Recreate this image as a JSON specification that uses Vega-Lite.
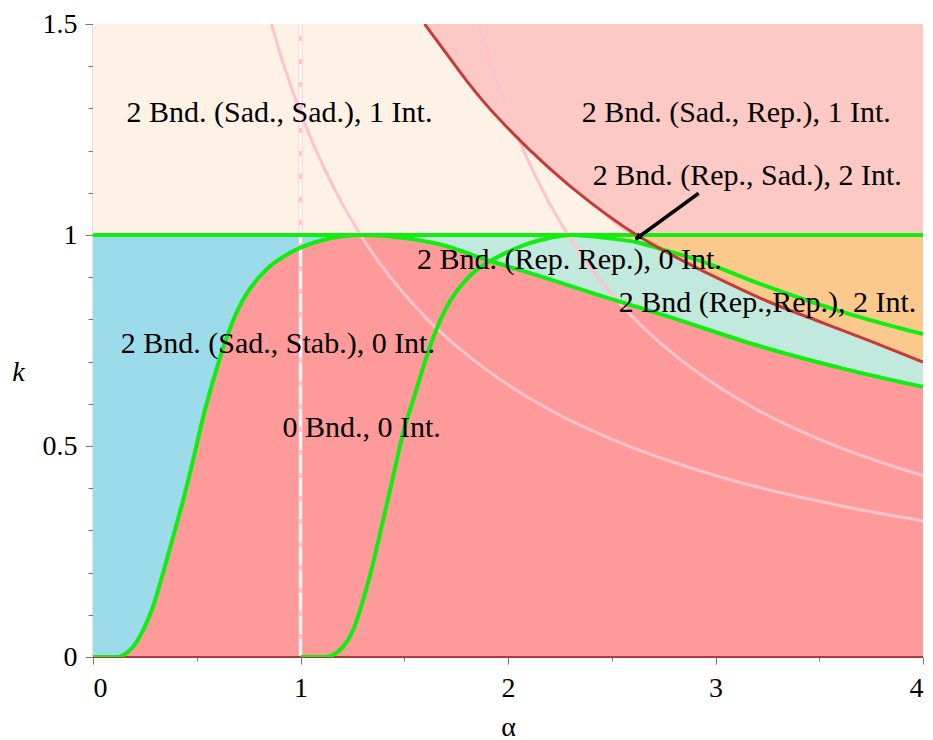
{
  "$schema": "https://vega.github.io/schema/vega-lite/v6.json",
  "width": 830,
  "height": 633,
  "autosize": "none",
  "padding": {"left": 93, "top": 24, "right": 10, "bottom": 83},
  "background": "white",
  "config": {"view": {"stroke": null}, "font": "'Liberation Serif', 'Times New Roman', Times, 'DejaVu Serif', serif"},
  "datasets": {
    "rects": [
      {"name": "peach", "a": 0, "a2": 4, "k": 1, "k2": 1.5},
      {"name": "blue", "a": 0, "a2": 1.3, "k": 0, "k2": 1},
      {"name": "teal", "a": 1.3, "a2": 4, "k": 0, "k2": 1}
    ],
    "redTop": [
      {"a": 1.598, "k": 1.5}, {"a": 1.7, "k": 1.432}, {"a": 1.8, "k": 1.366}, {"a": 1.9, "k": 1.306},
      {"a": 2.0, "k": 1.253}, {"a": 2.2, "k": 1.158}, {"a": 2.4, "k": 1.076}, {"a": 2.62, "k": 1.0}, {"a": 4.0, "k": 1.0}
    ],
    "red": [
      {"a": 1.598, "k": 1.5}, {"a": 1.7, "k": 1.432}, {"a": 1.8, "k": 1.366}, {"a": 1.9, "k": 1.306},
      {"a": 2.0, "k": 1.253}, {"a": 2.2, "k": 1.158}, {"a": 2.4, "k": 1.076}, {"a": 2.62, "k": 1.0},
      {"a": 2.8, "k": 0.95}, {"a": 3.0, "k": 0.9}, {"a": 3.25, "k": 0.843}, {"a": 3.5, "k": 0.795},
      {"a": 3.75, "k": 0.748}, {"a": 4.0, "k": 0.699}
    ],
    "redLow": [
      {"a": 2.62, "k": 1.0}, {"a": 2.8, "k": 0.95}, {"a": 3.0, "k": 0.9}, {"a": 3.25, "k": 0.843}, {"a": 3.5, "k": 0.795},
      {"a": 3.75, "k": 0.748}, {"a": 4.0, "k": 0.699}
    ],
    "yellow": [
      {"a": 2.3, "k": 1.0}, {"a": 2.4, "k": 0.997}, {"a": 2.5, "k": 0.992}, {"a": 2.63, "k": 0.984}
    ],
    "curveA": [
      {"a": 0, "k": 0}, {"a": 0.12, "k": 0}, {"a": 0.145, "k": 0.004}, {"a": 0.193, "k": 0.024},
      {"a": 0.241, "k": 0.063}, {"a": 0.289, "k": 0.119}, {"a": 0.337, "k": 0.198}, {"a": 0.386, "k": 0.285},
      {"a": 0.434, "k": 0.371}, {"a": 0.482, "k": 0.466}, {"a": 0.53, "k": 0.567}, {"a": 0.6, "k": 0.69},
      {"a": 0.65, "k": 0.765}, {"a": 0.7, "k": 0.825}, {"a": 0.75, "k": 0.868}, {"a": 0.8, "k": 0.9},
      {"a": 0.85, "k": 0.925}, {"a": 0.9, "k": 0.943}, {"a": 1.0, "k": 0.97}, {"a": 1.1, "k": 0.987}, {"a": 1.2, "k": 0.997},
      {"a": 1.3, "k": 1.0}, {"a": 1.4, "k": 0.998}, {"a": 1.5, "k": 0.993}, {"a": 1.67, "k": 0.978},
      {"a": 1.91, "k": 0.939}, {"a": 2.15, "k": 0.903}, {"a": 2.44, "k": 0.857}, {"a": 2.77, "k": 0.807},
      {"a": 3.21, "k": 0.737}, {"a": 3.61, "k": 0.684}, {"a": 4.0, "k": 0.64}
    ],
    "greens": [
      {"s": "A", "a": 0, "k": 0}, {"s": "A", "a": 0.12, "k": 0}, {"s": "A", "a": 0.145, "k": 0.004}, {"s": "A", "a": 0.193, "k": 0.024},
      {"s": "A", "a": 0.241, "k": 0.063}, {"s": "A", "a": 0.289, "k": 0.119}, {"s": "A", "a": 0.337, "k": 0.198}, {"s": "A", "a": 0.386, "k": 0.285},
      {"s": "A", "a": 0.434, "k": 0.371}, {"s": "A", "a": 0.482, "k": 0.466}, {"s": "A", "a": 0.53, "k": 0.567}, {"s": "A", "a": 0.6, "k": 0.69},
      {"s": "A", "a": 0.65, "k": 0.765}, {"s": "A", "a": 0.7, "k": 0.825}, {"s": "A", "a": 0.75, "k": 0.868}, {"s": "A", "a": 0.8, "k": 0.9},
      {"s": "A", "a": 0.85, "k": 0.925}, {"s": "A", "a": 0.9, "k": 0.943}, {"s": "A", "a": 1.0, "k": 0.97}, {"s": "A", "a": 1.1, "k": 0.987}, {"s": "A", "a": 1.2, "k": 0.997},
      {"s": "A", "a": 1.3, "k": 1.0}, {"s": "A", "a": 1.4, "k": 0.998}, {"s": "A", "a": 1.5, "k": 0.993}, {"s": "A", "a": 1.67, "k": 0.978},
      {"s": "A", "a": 1.91, "k": 0.939}, {"s": "A", "a": 2.15, "k": 0.903}, {"s": "A", "a": 2.44, "k": 0.857}, {"s": "A", "a": 2.77, "k": 0.807},
      {"s": "A", "a": 3.21, "k": 0.737}, {"s": "A", "a": 3.61, "k": 0.684}, {"s": "A", "a": 4.0, "k": 0.64},
      {"s": "B", "a": 1.0, "k": 0}, {"s": "B", "a": 1.12, "k": 0}, {"s": "B", "a": 1.141, "k": 0.002}, {"s": "B", "a": 1.205, "k": 0.024},
      {"s": "B", "a": 1.253, "k": 0.063}, {"s": "B", "a": 1.301, "k": 0.134}, {"s": "B", "a": 1.349, "k": 0.221}, {"s": "B", "a": 1.398, "k": 0.324},
      {"s": "B", "a": 1.446, "k": 0.427}, {"s": "B", "a": 1.494, "k": 0.53}, {"s": "B", "a": 1.55, "k": 0.62}, {"s": "B", "a": 1.6, "k": 0.7},
      {"s": "B", "a": 1.65, "k": 0.77}, {"s": "B", "a": 1.7, "k": 0.825}, {"s": "B", "a": 1.75, "k": 0.865}, {"s": "B", "a": 1.8, "k": 0.895},
      {"s": "B", "a": 1.85, "k": 0.918}, {"s": "B", "a": 1.91, "k": 0.937},
      {"s": "B", "a": 2.0, "k": 0.96}, {"s": "B", "a": 2.1, "k": 0.98}, {"s": "B", "a": 2.2, "k": 0.993}, {"s": "B", "a": 2.3, "k": 1.0},
      {"s": "B", "a": 2.4, "k": 0.997}, {"s": "B", "a": 2.49, "k": 0.992}, {"s": "B", "a": 2.62, "k": 0.983}, {"s": "B", "a": 2.73, "k": 0.968},
      {"s": "B", "a": 2.92, "k": 0.94}, {"s": "B", "a": 3.21, "k": 0.885}, {"s": "B", "a": 3.61, "k": 0.818}, {"s": "B", "a": 4.0, "k": 0.765},
      {"s": "one", "a": 0, "k": 1}, {"s": "one", "a": 4, "k": 1}
    ],
    "pinks": [
      {"s": "p1", "a": 0.86, "k": 1.5}, {"s": "p1", "a": 0.9, "k": 1.433}, {"s": "p1", "a": 1.0, "k": 1.29}, {"s": "p1", "a": 1.1, "k": 1.173},
      {"s": "p1", "a": 1.2, "k": 1.075}, {"s": "p1", "a": 1.3, "k": 0.992}, {"s": "p1", "a": 1.4, "k": 0.921}, {"s": "p1", "a": 1.5, "k": 0.86},
      {"s": "p1", "a": 1.6, "k": 0.806}, {"s": "p1", "a": 1.8, "k": 0.717}, {"s": "p1", "a": 2.0, "k": 0.645}, {"s": "p1", "a": 2.2, "k": 0.586},
      {"s": "p1", "a": 2.4, "k": 0.5375}, {"s": "p1", "a": 2.6, "k": 0.496}, {"s": "p1", "a": 2.8, "k": 0.461}, {"s": "p1", "a": 3.0, "k": 0.43},
      {"s": "p1", "a": 3.25, "k": 0.397}, {"s": "p1", "a": 3.5, "k": 0.369}, {"s": "p1", "a": 3.75, "k": 0.344}, {"s": "p1", "a": 4.0, "k": 0.3225},
      {"s": "p2", "a": 1.86, "k": 1.5}, {"s": "p2", "a": 1.9, "k": 1.433}, {"s": "p2", "a": 2.0, "k": 1.29}, {"s": "p2", "a": 2.1, "k": 1.173},
      {"s": "p2", "a": 2.2, "k": 1.075}, {"s": "p2", "a": 2.3, "k": 0.992}, {"s": "p2", "a": 2.4, "k": 0.921}, {"s": "p2", "a": 2.5, "k": 0.86},
      {"s": "p2", "a": 2.6, "k": 0.806}, {"s": "p2", "a": 2.8, "k": 0.717}, {"s": "p2", "a": 3.0, "k": 0.645}, {"s": "p2", "a": 3.2, "k": 0.586},
      {"s": "p2", "a": 3.4, "k": 0.5375}, {"s": "p2", "a": 3.6, "k": 0.496}, {"s": "p2", "a": 3.8, "k": 0.461}, {"s": "p2", "a": 4.0, "k": 0.43}
    ],
    "vline": [{"a": 1, "k": 0, "k2": 1.5}],
    "zeroLine": [{"a": 0, "a2": 4, "k": 0}],
    "arrow": [{"a": 2.919, "k": 1.099}, {"a": 2.615, "k": 0.99}],
    "arrowHead": [{"a": 2.625, "k": 0.994}],
    "labels": [
      {"a": 0.162, "k": 1.267, "t": "2 Bnd. (Sad., Sad.), 1 Int."},
      {"a": 2.355, "k": 1.268, "t": "2 Bnd. (Sad., Rep.), 1 Int."},
      {"a": 2.408, "k": 1.118, "t": "2 Bnd. (Rep., Sad.), 2 Int."},
      {"a": 1.561, "k": 0.919, "t": "2 Bnd. (Rep. Rep.), 0 Int."},
      {"a": 2.534, "k": 0.817, "t": "2 Bnd (Rep.,Rep.), 2 Int."},
      {"a": 0.134, "k": 0.72, "t": "2 Bnd. (Sad., Stab.), 0 Int."},
      {"a": 0.913, "k": 0.521, "t": "0 Bnd., 0 Int."}
    ]
  },
  "encoding": {
    "x": {
      "field": "a", "type": "quantitative",
      "scale": {"domain": [0, 4], "nice": false, "zero": false},
      "axis": {
        "values": [0, 0.5, 1, 1.5, 2, 2.5, 3, 3.5, 4],
        "labelExpr": "datum.value % 1 == 0 ? '' + datum.value : ''",
        "grid": false, "domain": false,
        "tickSize": {"condition": {"test": "datum.value % 1 == 0", "value": 7}, "value": 4},
        "tickColor": "#777", "tickWidth": 1,
        "labelFont": "'Liberation Serif', 'Times New Roman', Times, 'DejaVu Serif', serif", "labelFontSize": 28, "labelColor": "black", "labelPadding": 10,
        "title": "α", "titleFont": "'Liberation Serif', 'Times New Roman', Times, 'DejaVu Serif', serif", "titleFontSize": 28, "titleFontWeight": "normal", "titleColor": "black",
        "titleBaseline": "alphabetic", "titleY": 78
      }
    },
    "y": {
      "field": "k", "type": "quantitative",
      "scale": {"domain": [0, 1.5], "nice": false, "zero": false},
      "axis": {
        "values": [0, 0.1, 0.2, 0.3, 0.4, 0.5, 0.6, 0.7, 0.8, 0.9, 1, 1.1, 1.2, 1.3, 1.4, 1.5],
        "labelExpr": "(datum.value == 0 || datum.value == 0.5 || datum.value == 1 || datum.value == 1.5) ? '' + datum.value : ''",
        "grid": false, "domain": true, "domainColor": "#888", "domainWidth": 1.5,
        "tickSize": {"condition": {"test": "datum.value == 0 || datum.value == 0.5 || datum.value == 1 || datum.value == 1.5", "value": 8}, "value": 5},
        "tickColor": "#777", "tickWidth": 1,
        "labelFont": "'Liberation Serif', 'Times New Roman', Times, 'DejaVu Serif', serif", "labelFontSize": 28, "labelColor": "black", "labelPadding": 8,
        "title": "k", "titleFont": "'Liberation Serif', 'Times New Roman', Times, 'DejaVu Serif', serif", "titleFontSize": 28, "titleFontWeight": "normal", "titleFontStyle": "italic",
        "titleColor": "black", "titleAngle": 0, "titleAlign": "center", "titleBaseline": "middle", "titleX": -75, "titleY": 348
      }
    }
  },
  "layer": [
    {
      "data": {"name": "rects"},
      "mark": {"type": "rect", "clip": true},
      "encoding": {
        "x2": {"field": "a2"}, "y2": {"field": "k2"},
        "color": {"field": "name", "type": "nominal", "scale": {"domain": ["peach", "blue", "teal"], "range": ["#fef1e6", "#9bdbea", "#c2e9dd"]}, "legend": null}
      }
    },
    {
      "data": {"name": "redTop"},
      "mark": {"type": "area", "color": "#fcc9c5", "interpolate": "monotone", "clip": true},
      "encoding": {"y2": {"datum": 1.5}}
    },
    {
      "data": {"name": "redLow"},
      "mark": {"type": "area", "color": "#fbc98b", "interpolate": "monotone", "clip": true},
      "encoding": {"y2": {"datum": 1}}
    },
    {
      "data": {"name": "yellow"},
      "mark": {"type": "area", "color": "#fbf7a6", "interpolate": "monotone", "clip": true},
      "encoding": {"y2": {"datum": 1}}
    },
    {
      "data": {"name": "curveA"},
      "mark": {"type": "area", "color": "#fe9a9a", "interpolate": "monotone", "clip": true},
      "encoding": {"y2": {"datum": 0}}
    },
    {
      "data": {"name": "pinks"},
      "mark": {"type": "line", "color": "#ffc3cd", "strokeWidth": 3, "interpolate": "monotone", "clip": true},
      "encoding": {"detail": {"field": "s"}}
    },
    {
      "data": {"name": "vline"},
      "mark": {"type": "rule", "color": "#ffc3cd", "strokeWidth": 4},
      "encoding": {"y2": {"field": "k2"}}
    },
    {
      "data": {"name": "vline"},
      "mark": {"type": "rule", "color": "white", "strokeWidth": 2.5, "strokeDash": [18, 5]},
      "encoding": {"y2": {"field": "k2"}}
    },
    {
      "data": {"name": "zeroLine"},
      "mark": {"type": "rule", "color": "#b03a3a", "strokeWidth": 2},
      "encoding": {"x2": {"field": "a2"}}
    },
    {
      "data": {"name": "greens"},
      "mark": {"type": "line", "color": "#10ee10", "strokeWidth": 4, "interpolate": "monotone", "clip": true},
      "encoding": {"detail": {"field": "s"}}
    },
    {
      "data": {"name": "red"},
      "mark": {"type": "line", "color": "#c83a36", "strokeWidth": 3, "interpolate": "monotone", "clip": true},
      "encoding": {}
    },
    {
      "data": {"name": "arrow"},
      "mark": {"type": "line", "color": "black", "strokeWidth": 3.5},
      "encoding": {}
    },
    {
      "data": {"name": "arrowHead"},
      "mark": {"type": "point", "shape": "triangle-up", "filled": true, "color": "black", "size": 60, "opacity": 1, "angle": 234},
      "encoding": {}
    },
    {
      "data": {"name": "labels"},
      "mark": {"type": "text", "align": "left", "baseline": "alphabetic", "font": "'Liberation Serif', 'Times New Roman', Times, 'DejaVu Serif', serif", "fontSize": 30, "color": "black"},
      "encoding": {"text": {"field": "t"}}
    }
  ]
}
